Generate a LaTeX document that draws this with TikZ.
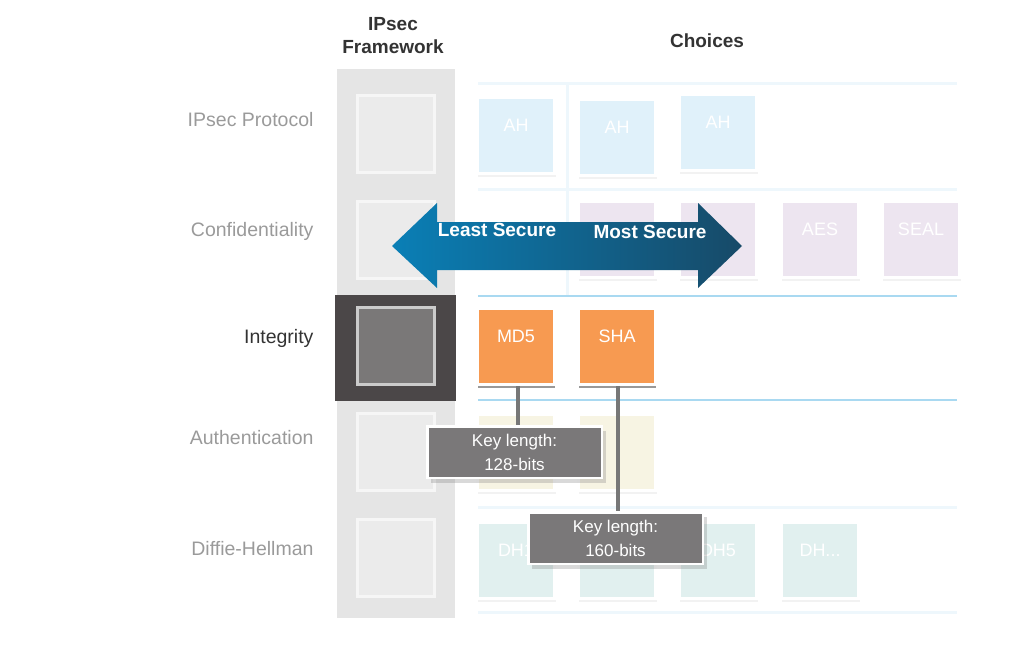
\documentclass[tikz,border=0pt]{standalone}
\usepackage{fontspec}
\setmainfont{Liberation Sans}
\usetikzlibrary{shadows}

\definecolor{colbg}{HTML}{E5E5E5}
\definecolor{fwfill}{HTML}{EBEBEB}
\definecolor{fwedge}{HTML}{F6F6F6}
\definecolor{intband}{HTML}{4B4748}
\definecolor{intfill}{HTML}{7A7878}
\definecolor{intedge}{HTML}{CBCBCB}
\definecolor{lblgray}{HTML}{9A9A9A}
\definecolor{hdrgray}{HTML}{333333}
\definecolor{linepale}{HTML}{EEF7FC}
\definecolor{linestrong}{HTML}{A9D9F1}
\definecolor{ahblue}{HTML}{E0F1FA}
\definecolor{encpurple}{HTML}{EDE5F0}
\definecolor{hashorange}{HTML}{F79A51}
\definecolor{authyellow}{HTML}{F7F4E3}
\definecolor{dhteal}{HTML}{E1F0EF}
\definecolor{keygray}{HTML}{7A7879}
\definecolor{connline}{HTML}{777777}
\definecolor{arrowL}{HTML}{0A7FB6}
\definecolor{arrowR}{HTML}{174A68}

\begin{document}
\begin{tikzpicture}[x=1pt,y=-1pt,
  rowlbl/.style={anchor=base east,text=lblgray,
                 font=\fontsize{19.5}{23}\selectfont},
  hdr/.style={text=hdrgray,align=center,
              font=\bfseries\fontsize{19}{23}\selectfont},
  fwbox/.style={draw=fwedge,fill=fwfill,line width=3pt,inner sep=0pt,
                minimum width=77pt,minimum height=77pt,anchor=north west},
  choice/.style={draw=white,line width=3pt,inner sep=0pt,anchor=north west,
                 minimum width=77pt,minimum height=76pt,
                 text=white,font=\fontsize{18}{18}\selectfont,
                 text height=34pt,text depth=42pt},
  softshadow/.style={drop shadow={shadow xshift=1pt,shadow yshift=-3pt,
                     shadow scale=1.01,opacity=0.1}},
  hardshadow/.style={drop shadow={shadow xshift=0.5pt,shadow yshift=-3pt,
                     opacity=0.8}},
  keybox/.style={draw=white,fill=keygray,line width=2.5pt,text=white,
                 align=center,minimum width=174.5pt,minimum height=51.5pt,
                 font=\fontsize{17}{24}\selectfont,
                 drop shadow={shadow xshift=4pt,shadow yshift=-5pt,
                 opacity=0.3}},
  keyline/.style={draw=connline,line width=4pt},
  gridpale/.style={draw=linepale,line width=3pt},
  gridstrong/.style={draw=linestrong,line width=2pt},
  arrowtxt/.style={anchor=base,text=white,
                   font=\bfseries\fontsize{19}{19}\selectfont}]

\useasboundingbox (0,0) rectangle (1018,656);

% headers
\node[hdr] (hdrfw) at (393,35.6) {IPsec\\Framework};
\node[hdr,anchor=base] (hdrch) at (707,47) {Choices};

% framework column
\fill[colbg] (337,69) rectangle (455,618);
\fill[intband] (335,295) rectangle (456,401);

\node[fwbox] (fwproto) at (356,94) {};
\node[fwbox] (fwconf) at (356,200) {};
\node[fwbox,draw=intedge,fill=intfill] (fwinteg) at (356,306) {};
\node[fwbox] (fwauth) at (356,412) {};
\node[fwbox] (fwdh) at (356,518) {};

% row labels
\node[rowlbl] (lblproto) at (317,126) {IPsec Protocol};
\node[rowlbl] (lblconf) at (317,236) {Confidentiality};
\node[rowlbl,text=hdrgray] (lblinteg) at (317,343) {Integrity};
\node[rowlbl] (lblauth) at (317,444) {Authentication};
\node[rowlbl] (lbldh) at (317,555) {Diffie-Hellman};

% grid lines
\draw[gridpale] (478,83) -- (957,83);
\draw[gridpale] (478,189) -- (957,189);
\draw[gridpale] (567,83) -- (567,295);
\draw[gridstrong] (478,296) -- (957,296);
\draw[gridstrong] (478,400) -- (957,400);
\draw[gridpale] (478,507) -- (957,507);
\draw[gridpale] (478,612) -- (957,612);

% choices
\node[choice,softshadow,fill=ahblue] (ah1) at (476,96) {AH};
\node[choice,softshadow,fill=ahblue,yshift=-2pt] (ah2) at (577,96) {AH};
\node[choice,softshadow,fill=ahblue,yshift=3pt] (ah3) at (678,96) {AH};

\node[choice,softshadow,fill=encpurple,yshift=2pt] (des) at (577,202) {};
\node[choice,softshadow,fill=encpurple,yshift=2pt] (tdes) at (678,202) {};
\node[choice,softshadow,fill=encpurple,yshift=2pt] (aes) at (780,202) {AES};
\node[choice,softshadow,fill=encpurple,yshift=2pt] (seal) at (881,202) {SEAL};

\node[choice,hardshadow,fill=hashorange] (md5) at (476,307) {MD5};
\node[choice,hardshadow,fill=hashorange] (sha) at (577,307) {SHA};

\node[choice,softshadow,fill=authyellow] (psk) at (476,413) {};
\node[choice,softshadow,fill=authyellow] (rsa) at (577,413) {};

\node[choice,softshadow,fill=dhteal,yshift=-2pt] (dh1) at (476,519) {DH1};
\node[choice,softshadow,fill=dhteal,yshift=-2pt] (dh2) at (577,519) {};
\node[choice,softshadow,fill=dhteal,yshift=-2pt] (dh5) at (678,519) {DH5};
\node[choice,softshadow,fill=dhteal,yshift=-2pt] (dhx) at (780,519) {DH...};

% security arrow
\shade[left color=arrowL,right color=arrowR]
  (392,246) -- (437,203) -- (437,222) -- (698,222) -- (698,203)
  -- (742,246) -- (698,288) -- (698,270) -- (437,270) -- (437,288)
  -- cycle;
\node[arrowtxt] (least) at (497,236) {Least Secure};
\node[arrowtxt] (most) at (650,238) {Most Secure};

% key lengths
\draw[keyline] ([xshift=2pt]md5.south) -- ([xshift=2pt]md5.south |- 0,440);
\draw[keyline] ([xshift=1pt]sha.south) -- ([xshift=1pt]sha.south |- 0,525);
\node[keybox] (key128) at (514.5,452) {Key length:\\128-bits};
\node[keybox] (key160) at (615.5,538) {Key length:\\160-bits};

\end{tikzpicture}
\end{document}
